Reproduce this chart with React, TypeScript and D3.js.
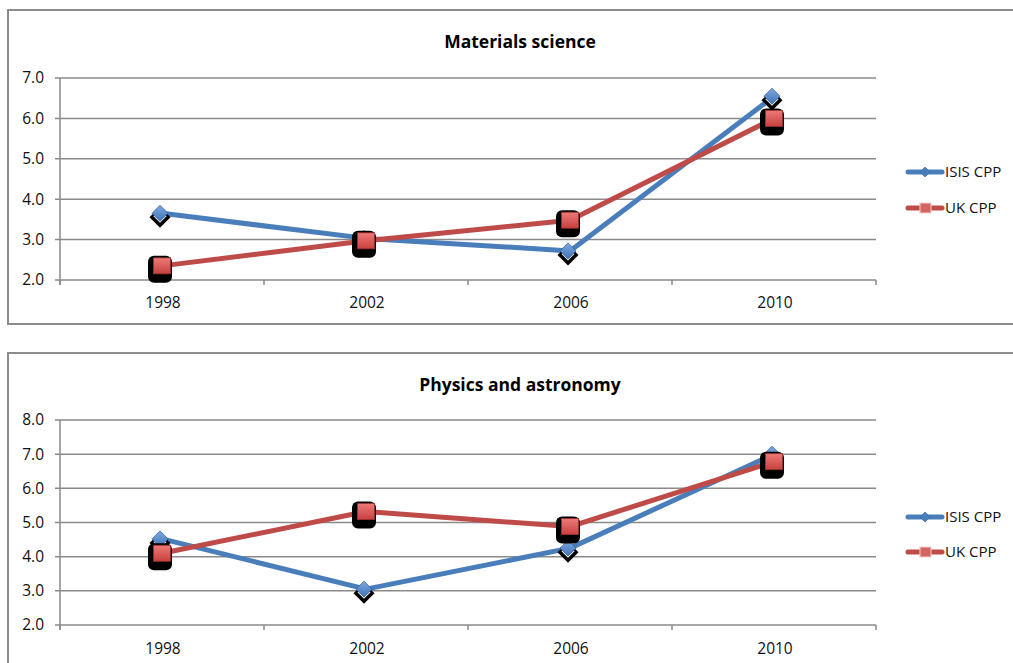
import { useEffect, useRef } from "react";
import * as d3 from "d3";

const years = ["1998", "2002", "2006", "2010"];
const seriesNames = ["ISIS CPP", "UK CPP"];

const matIsis = [3.65, 3.03, 2.72, 6.55];
const matUk = [2.35, 2.97, 3.48, 6.0];
const matTicks = [2, 3, 4, 5, 6, 7];

const physIsis = [4.52, 3.05, 4.25, 7.0];
const physUk = [4.1, 5.32, 4.88, 6.78];
const physTicks = [2, 3, 4, 5, 6, 7, 8];

const BLUE = "#4a7ebb";
const RED = "#be4b48";
const GRID = "#8a8a8a";
const FONT = "'Open Sans', 'Noto Sans', sans-serif";

interface PanelSpec {
  title: string;
  top: number; // frame top
  plotTop: number;
  plotBottom: number;
  ticks: number[];
  isis: number[];
  uk: number[];
  legendY: number[];
  labelY: number;
}

const panels: PanelSpec[] = [
  {
    title: "Materials science",
    top: 10,
    plotTop: 78,
    plotBottom: 280,
    ticks: matTicks,
    isis: matIsis,
    uk: matUk,
    legendY: [172, 208],
    labelY: 303,
  },
  {
    title: "Physics and astronomy",
    top: 353,
    plotTop: 420,
    plotBottom: 625,
    ticks: physTicks,
    isis: physIsis,
    uk: physUk,
    legendY: [517, 552],
    labelY: 649,
  },
];

const App: React.FC = () => {
  const ref = useRef<SVGSVGElement>(null);

  useEffect(() => {
    if (!ref.current) return;
    const svg = d3.select(ref.current);
    svg.selectAll("*").remove();

    const width = 1013;
    const plotLeft = 60;
    const plotRight = 876;

    const defs = svg.append("defs");
    const gr = defs
      .append("linearGradient")
      .attr("id", "redFill")
      .attr("x1", 0)
      .attr("y1", 0)
      .attr("x2", 0)
      .attr("y2", 1);
    gr.append("stop").attr("offset", "0%").attr("stop-color", "#ec7a78");
    gr.append("stop").attr("offset", "100%").attr("stop-color", "#c9403d");
    const gb = defs
      .append("linearGradient")
      .attr("id", "blueFill")
      .attr("x1", 0)
      .attr("y1", 0)
      .attr("x2", 0)
      .attr("y2", 1);
    gb.append("stop").attr("offset", "0%").attr("stop-color", "#7fa9e0");
    gb.append("stop").attr("offset", "100%").attr("stop-color", "#3f73b8");

    const diamond = (r: number) => `M0,${-r}L${r},0L0,${r}L${-r},0Z`;

    panels.forEach((p, pi) => {
      const g = svg.append("g");

      // frame (top one closes, bottom one runs off the page)
      g.append("rect")
        .attr("x", 8)
        .attr("y", p.top)
        .attr("width", width + 20)
        .attr("height", pi === 0 ? 314 : 700)
        .attr("fill", "#fff")
        .attr("stroke", "#8c8c8c")
        .attr("stroke-width", 2);

      const x = d3
        .scaleBand<string>()
        .domain(years)
        .range([plotLeft, plotRight]);
      const y = d3
        .scaleLinear()
        .domain([p.ticks[0], p.ticks[p.ticks.length - 1]])
        .range([p.plotBottom, p.plotTop]);

      // title
      g.append("text")
        .attr("x", 520)
        .attr("y", p.top + 32)
        .attr("dy", "0.35em")
        .attr("text-anchor", "middle")
        .attr("font-family", FONT)
        .attr("font-weight", "bold")
        .attr("font-size", 17.5)
        .text(p.title);

      // gridlines
      g.append("g")
        .selectAll("line")
        .data(p.ticks)
        .join("line")
        .attr("x1", plotLeft - 5)
        .attr("x2", plotRight)
        .attr("y1", (d) => y(d))
        .attr("y2", (d) => y(d))
        .attr("stroke", GRID)
        .attr("stroke-width", 1.5);

      // y axis line
      g.append("line")
        .attr("x1", plotLeft)
        .attr("x2", plotLeft)
        .attr("y1", p.plotTop)
        .attr("y2", p.plotBottom + 5)
        .attr("stroke", GRID)
        .attr("stroke-width", 1.5);

      // x tick marks
      const xTicks = years.map((d) => x(d) ?? 0).concat([plotRight]);
      g.append("g")
        .selectAll("line")
        .data(xTicks)
        .join("line")
        .attr("x1", (d) => d)
        .attr("x2", (d) => d)
        .attr("y1", p.plotBottom)
        .attr("y2", p.plotBottom + 5)
        .attr("stroke", GRID)
        .attr("stroke-width", 1.5);

      // y labels
      g.append("g")
        .selectAll("text")
        .data(p.ticks)
        .join("text")
        .attr("x", 44)
        .attr("y", (d) => y(d))
        .attr("dy", "0.35em")
        .attr("text-anchor", "end")
        .attr("font-family", FONT)
        .attr("font-size", 15.5)
        .attr("fill", "#111")
        .text((d) => d3.format(".1f")(d));

      // x labels
      g.append("g")
        .selectAll("text")
        .data(years)
        .join("text")
        .attr("x", (d) => (x(d) ?? 0) + x.bandwidth() / 2 + 1)
        .attr("y", p.labelY)
        .attr("dy", "0.35em")
        .attr("text-anchor", "middle")
        .attr("font-family", FONT)
        .attr("font-size", 15.5)
        .attr("fill", "#111")
        .text((d) => d);

      const cx = (i: number) => (x(years[i]) ?? 0) + x.bandwidth() / 2;
      const line = d3
        .line<number>()
        .x((_, i) => cx(i))
        .y((d) => y(d));

      // series lines
      g.append("path")
        .attr("d", line(p.isis))
        .attr("fill", "none")
        .attr("stroke", BLUE)
        .attr("stroke-width", 5)
        .attr("stroke-linejoin", "round");
      g.append("path")
        .attr("d", line(p.uk))
        .attr("fill", "none")
        .attr("stroke", RED)
        .attr("stroke-width", 5)
        .attr("stroke-linejoin", "round");

      // ISIS markers
      const dm = g
        .append("g")
        .selectAll("g")
        .data(p.isis)
        .join("g")
        .attr("transform", (d, i) => `translate(${cx(i) - 2},${y(d)})`);
      dm.append("path")
        .attr("d", diamond(10.5))
        .attr("transform", "translate(0,4)")
        .attr("fill", "#000");
      dm.append("path")
        .attr("d", diamond(6.5))
        .attr("transform", "translate(0,3)")
        .attr("fill", "#fff");
      dm.append("path")
        .attr("d", diamond(8))
        .attr("fill", "url(#blueFill)")
        .attr("stroke", "#35639e")
        .attr("stroke-width", 0.8);

      // UK markers
      const sm = g
        .append("g")
        .selectAll("g")
        .data(p.uk)
        .join("g")
        .attr("transform", (d, i) => `translate(${cx(i)},${y(d)})`);
      sm.append("rect")
        .attr("x", -14)
        .attr("y", -10)
        .attr("width", 24)
        .attr("height", 27)
        .attr("rx", 6)
        .attr("fill", "#000");
      sm.append("rect")
        .attr("x", -8.5)
        .attr("y", -8)
        .attr("width", 17)
        .attr("height", 16)
        .attr("fill", "url(#redFill)")
        .attr("stroke", "#9c3431")
        .attr("stroke-width", 0.8);

      // legend
      seriesNames.forEach((name, i) => {
        const ly = p.legendY[i];
        const col = i === 0 ? BLUE : RED;
        const lg = g.append("g");
        lg.append("line")
          .attr("x1", 908)
          .attr("x2", 942)
          .attr("y1", ly)
          .attr("y2", ly)
          .attr("stroke", col)
          .attr("stroke-width", 5)
          .attr("stroke-linecap", "round");
        if (i === 0) {
          lg.append("path")
            .attr("d", diamond(5))
            .attr("transform", `translate(925,${ly})`)
            .attr("fill", BLUE)
            .attr("stroke", "#35639e")
            .attr("stroke-width", 0.6);
        } else {
          lg.append("rect")
            .attr("x", 920)
            .attr("y", ly - 5)
            .attr("width", 11)
            .attr("height", 10)
            .attr("fill", "#d56563")
            .attr("stroke", "#f2d0cf")
            .attr("stroke-width", 1);
        }
        lg.append("text")
          .attr("x", 945)
          .attr("y", ly)
          .attr("dy", "0.35em")
          .attr("font-family", FONT)
          .attr("font-size", 15)
          .attr("fill", "#111")
          .text(name);
      });
    });
  }, []);

  return (
    <svg
      ref={ref}
      width={1013}
      height={663}
      style={{ position: "absolute", left: 0, top: 0, display: "block" }}
    />
  );
};

export default App;
